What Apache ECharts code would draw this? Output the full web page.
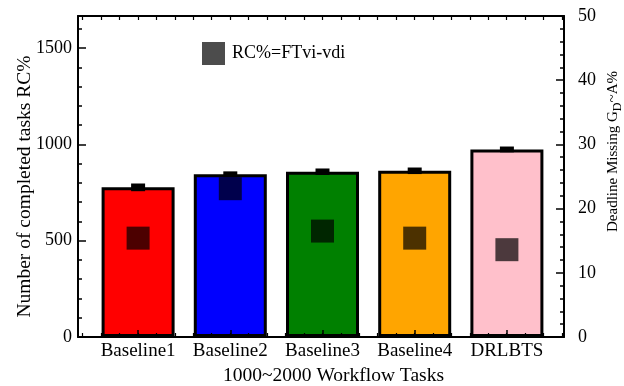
<!DOCTYPE html>
<html>
<head>
<meta charset="utf-8">
<script src="https://cdn.jsdelivr.net/npm/echarts@6/dist/echarts.min.js"></script>
<style>
html, body { margin: 0; padding: 0; background: #fff; }
#main { width: 624px; height: 386px; }
</style>
</head>
<body>
<div id="main"></div>
<script>
// data
var categories = ['Baseline1', 'Baseline2', 'Baseline3', 'Baseline4', 'DRLBTS'];
var completed = [777, 845, 858, 863, 974];
var completedErr = [20, 15, 17, 17, 15];
var missing = [15.4, 23.1, 16.5, 15.4, 13.6];
var barColors = ['#ff0000', '#0000ff', '#008000', '#ffa500', '#ffc0cb'];

var font = 'Liberation Serif';
var leftMax = 5000 / 3;   // 1000 on the left lines up with 30 on the right
var rightMax = 50;

var myChart = echarts.init(document.getElementById('main'));

var frameLine = { show: true, onZero: false, lineStyle: { color: '#000', width: 2 } };

var option = {
    backgroundColor: '#ffffff',
    animation: false,
    textStyle: { fontFamily: font, color: '#000' },
    legend: {
        data: ['RC%=FTvi-vdi'],
        left: 197,
        top: 37,
        icon: 'rect',
        itemWidth: 23,
        itemHeight: 23,
        selectedMode: false,
        textStyle: { fontFamily: font, fontSize: 18, color: '#000', padding: [0, 0, 0, 2] }
    },
    grid: [
        // frame + y axes
        { left: 78, right: 60, top: 16, bottom: 49, outerBoundsMode: 'none', containLabel: false },
        // bars
        { left: 92, right: 71, top: 16, bottom: 49, outerBoundsMode: 'none', containLabel: false },
        // small x ticks every 0.2 of a category
        { left: 82.7, right: 62, top: 16, bottom: 49, outerBoundsMode: 'none', containLabel: false }
    ],
    xAxis: [
        {
            gridIndex: 0, type: 'value', min: 0, max: 1, position: 'bottom',
            axisLine: frameLine,
            axisTick: { show: false }, axisLabel: { show: false }, splitLine: { show: false }
        },
        {
            gridIndex: 0, type: 'value', min: 0, max: 1, position: 'top',
            axisLine: frameLine,
            axisTick: { show: false }, axisLabel: { show: false }, splitLine: { show: false }
        },
        {
            gridIndex: 1, type: 'category', data: categories, position: 'bottom', z: 5,
            axisLine: { show: false, onZero: false },
            axisTick: { show: true, inside: true, alignWithLabel: true, length: 7, lineStyle: { color: '#000', width: 1.5 } },
            axisLabel: { fontFamily: font, fontSize: 19, color: '#000', margin: 5, interval: 0 },
            name: '1000~2000 Workflow Tasks',
            nameLocation: 'middle',
            nameGap: 29,
            nameTextStyle: { fontFamily: font, fontSize: 19.5, color: '#000', padding: [0, 0, 0, 22] }
        },
        {
            gridIndex: 2, type: 'value', min: -0.6, max: 4.6, interval: 0.2, position: 'bottom', z: 5,
            axisLine: { show: false, onZero: false },
            axisTick: { show: true, inside: true, length: 4, lineStyle: { color: '#000', width: 1.2 } },
            axisLabel: { show: false }, splitLine: { show: false }
        },
        {
            gridIndex: 2, type: 'value', min: -0.6, max: 4.6, interval: 0.2, position: 'top', z: 5,
            axisLine: { show: false, onZero: false },
            axisTick: { show: true, inside: true, length: 4, lineStyle: { color: '#000', width: 1.2 } },
            axisLabel: { show: false }, splitLine: { show: false }
        }
    ],
    yAxis: [
        {
            gridIndex: 0, type: 'value', min: 0, max: leftMax, interval: 500, position: 'left',
            axisLine: frameLine,
            axisTick: { show: true, inside: true, length: 8, lineStyle: { color: '#000', width: 1.5 } },
            axisLabel: {
                fontFamily: font, fontSize: 18, color: '#000', margin: 6,
                formatter: function (v) { return v % 500 === 0 ? v : ''; }
            },
            splitLine: { show: false },
            name: 'Number of completed tasks RC%',
            nameLocation: 'middle',
            nameGap: 43,
            nameMoveOverlap: false,
            nameTextStyle: { fontFamily: font, fontSize: 19.5, color: '#000', padding: [0, 20, 0, 0] }
        },
        {
            gridIndex: 0, type: 'value', min: 0, max: rightMax, interval: 10, position: 'right',
            axisLine: frameLine,
            axisTick: { show: true, inside: true, length: 8, lineStyle: { color: '#000', width: 1.5 } },
            minorTick: { show: true, splitNumber: 5, length: 4, lineStyle: { color: '#000', width: 1.5 } },
            axisLabel: { fontFamily: font, fontSize: 18, color: '#000', margin: 14 },
            splitLine: { show: false },
            name: 'Deadline Missing G{sub|D}~A%',
            nameLocation: 'middle',
            nameGap: 38,
            nameRotate: 90,
            nameMoveOverlap: false,
            nameTextStyle: {
                fontFamily: font, fontSize: 15, color: '#000', padding: [0, 0, 0, 50],
                rich: {
                    sub: { fontFamily: font, fontSize: 12, color: '#000', padding: [10, 0, 0, 0] }
                }
            }
        },
        { gridIndex: 1, type: 'value', min: 0, max: leftMax, show: false },
        { gridIndex: 1, type: 'value', min: 0, max: rightMax, show: false },
        {
            // minor ticks of the left axis, every 100
            gridIndex: 0, type: 'value', min: 0, max: leftMax, interval: 100, position: 'left',
            axisLine: { show: false, onZero: false },
            axisTick: { show: true, inside: true, length: 4, lineStyle: { color: '#000', width: 1.5 } },
            axisLabel: { show: false }, splitLine: { show: false }
        },
        { gridIndex: 2, type: 'value', min: 0, max: 1, show: false }
    ],
    series: [
        {
            name: 'completed',
            type: 'bar',
            xAxisIndex: 2,
            yAxisIndex: 2,
            barWidth: 73,
            itemStyle: { borderColor: '#000', borderWidth: 3 },
            data: completed.map(function (v, i) {
                return { value: v, itemStyle: { color: barColors[i] } };
            })
        },
        {
            name: 'err',
            type: 'custom',
            xAxisIndex: 2,
            yAxisIndex: 2,
            z: 4,
            encode: { x: 0, y: 1 },
            data: completed.map(function (v, i) { return [i, v, completedErr[i]]; }),
            renderItem: function (params, api) {
                var i = api.value(0), v = api.value(1), e = api.value(2);
                var top = api.coord([i, v + e]);
                var bot = api.coord([i, v - e]);
                return {
                    type: 'rect',
                    shape: { x: top[0] - 7, y: top[1], width: 14, height: bot[1] - top[1] },
                    style: { fill: '#000' }
                };
            }
        },
        {
            name: 'RC%=FTvi-vdi',
            type: 'scatter',
            xAxisIndex: 2,
            yAxisIndex: 3,
            z: 4,
            symbol: 'rect',
            symbolSize: 23,
            itemStyle: { color: 'rgba(0,0,0,0.7)', opacity: 1 },
            data: missing
        }
    ]
};
myChart.setOption(option);
</script>
</body>
</html>
